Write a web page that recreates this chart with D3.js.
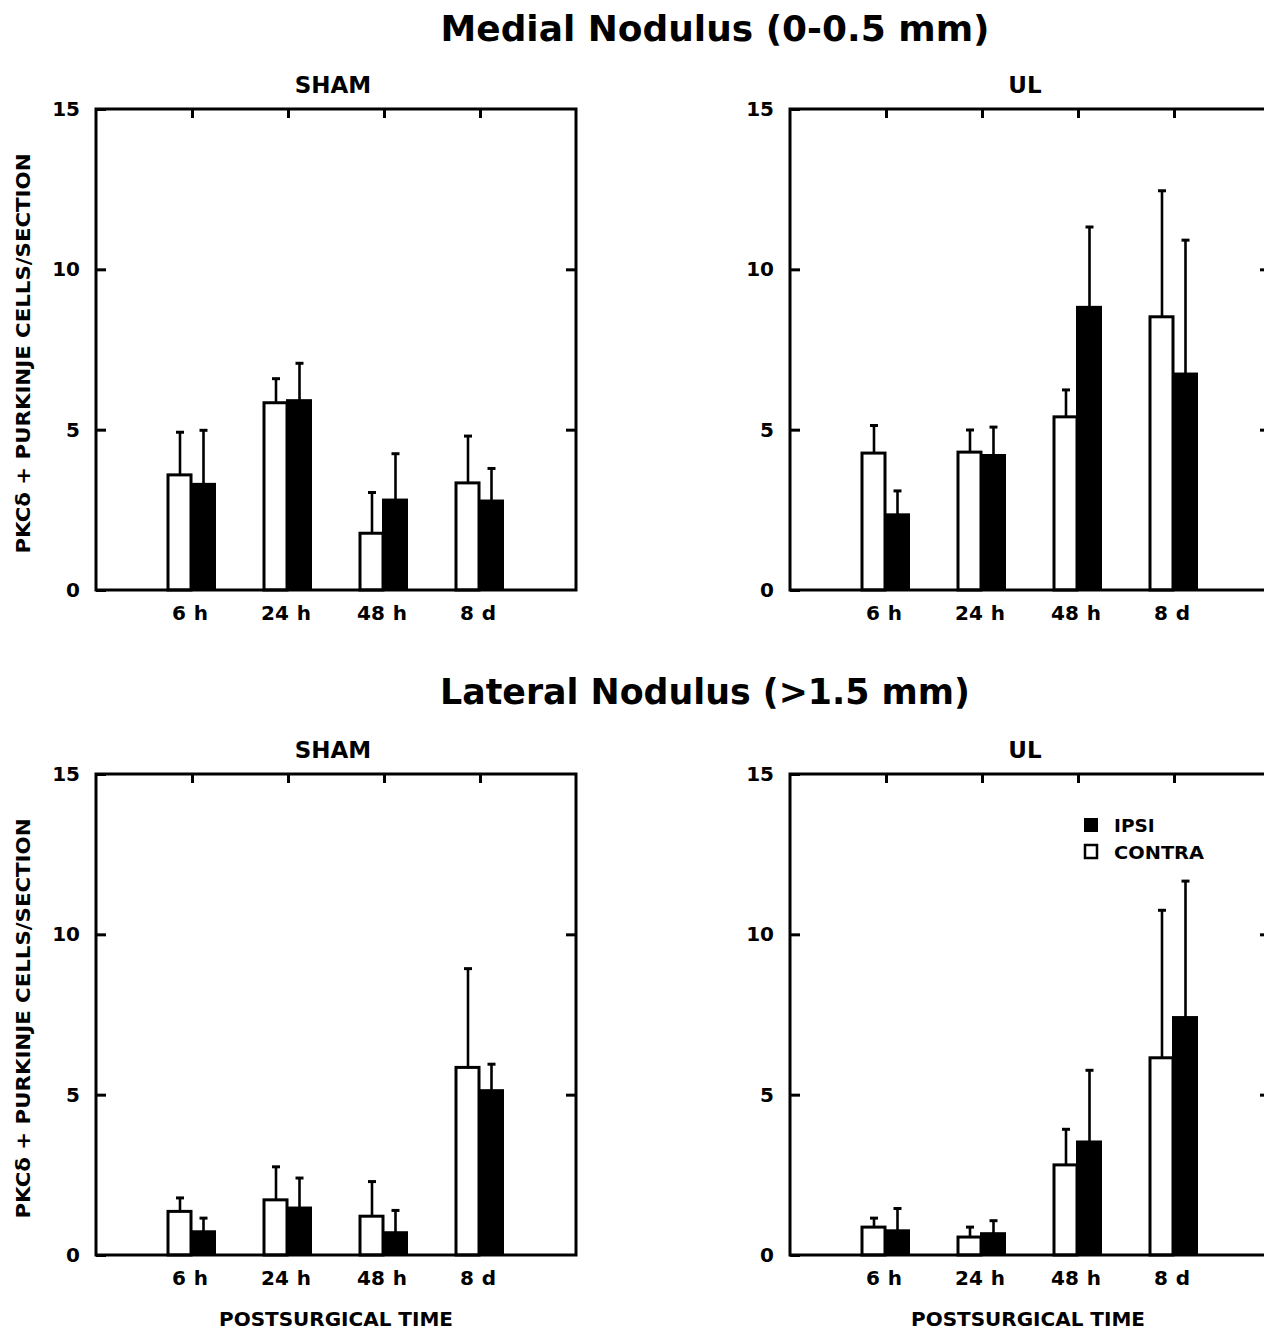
<!DOCTYPE html>
<html>
<head>
<meta charset="utf-8">
<script src="https://cdn.jsdelivr.net/npm/d3@7"></script>
<style>
  body { margin: 0; background: #fff; }
  text { font-family: "DejaVu Sans", "Liberation Sans", Arial, sans-serif; font-weight: bold; fill: #000; }
</style>
</head>
<body>
<svg width="1264" height="1331"></svg>
<script>
// values (mean and SD, cells/section)
var categories = ["6 h", "24 h", "48 h", "8 d"];
var yTicks = [0, 5, 10, 15];

var medialShamContra   = [3.59, 5.84, 1.77, 3.34];
var medialShamContraSD = [1.33, 0.75, 1.27, 1.46];
var medialShamIpsi     = [3.31, 5.92, 2.82, 2.79];
var medialShamIpsiSD   = [1.67, 1.15, 1.43, 1.00];

var medialULContra   = [4.27, 4.30, 5.40, 8.52];
var medialULContraSD = [0.86, 0.69, 0.84, 3.93];
var medialULIpsi     = [2.36, 4.21, 8.83, 6.75];
var medialULIpsiSD   = [0.73, 0.87, 2.49, 4.16];

var lateralShamContra   = [1.36, 1.72, 1.21, 5.85];
var lateralShamContraSD = [0.42, 1.03, 1.08, 3.08];
var lateralShamIpsi     = [0.74, 1.48, 0.71, 5.14];
var lateralShamIpsiSD   = [0.41, 0.92, 0.68, 0.81];

var lateralULContra   = [0.87, 0.56, 2.81, 6.15];
var lateralULContraSD = [0.28, 0.31, 1.11, 4.60];
var lateralULIpsi     = [0.77, 0.68, 3.54, 7.42];
var lateralULIpsiSD   = [0.68, 0.39, 2.22, 4.24];

var yLabel = "PKC\u03b4 + PURKINJE CELLS/SECTION";
var xLabel = "POSTSURGICAL TIME";

var svg = d3.select("svg");

var W = 480, H = 481, barW = 24;

function drawPanel(x0, y0, title, contra, contraSD, ipsi, ipsiSD, opts) {
    var x = d3.scalePoint().domain(categories).range([x0, x0 + W]).padding(1);
    var y = d3.scaleLinear().domain([0, 15]).range([y0 + H, y0]);
    var g = svg.append("g");

    var rows = categories.map(function (c, i) {
        return { c: c, contra: contra[i], contraSD: contraSD[i], ipsi: ipsi[i], ipsiSD: ipsiSD[i] };
    });

    // error bars first so the bars sit over their base
    var err = [];
    rows.forEach(function (d) {
        err.push({ cx: x(d.c) - 12, v: d.contra, sd: d.contraSD });
        err.push({ cx: x(d.c) + 11.5, v: d.ipsi, sd: d.ipsiSD });
    });
    g.selectAll("line.err").data(err).enter().append("line")
        .attr("class", "err")
        .attr("x1", function (d) { return d.cx; }).attr("x2", function (d) { return d.cx; })
        .attr("y1", function (d) { return y(d.v); }).attr("y2", function (d) { return y(d.v + d.sd); })
        .attr("stroke", "#000").attr("stroke-width", 2.6);
    g.selectAll("line.cap").data(err).enter().append("line")
        .attr("class", "cap")
        .attr("x1", function (d) { return d.cx - 4; }).attr("x2", function (d) { return d.cx + 4; })
        .attr("y1", function (d) { return y(d.v + d.sd); }).attr("y2", function (d) { return y(d.v + d.sd); })
        .attr("stroke", "#000").attr("stroke-width", 3);

    g.selectAll("rect.contra").data(rows).enter().append("rect")
        .attr("class", "contra")
        .attr("x", function (d) { return x(d.c) - barW; })
        .attr("y", function (d) { return y(d.contra); })
        .attr("width", barW - 1)
        .attr("height", function (d) { return y(0) - y(d.contra); })
        .attr("fill", "#fff").attr("stroke", "#000").attr("stroke-width", 3);
    g.selectAll("rect.ipsi").data(rows).enter().append("rect")
        .attr("class", "ipsi")
        .attr("x", function (d) { return x(d.c) - 1; })
        .attr("y", function (d) { return y(d.ipsi); })
        .attr("width", barW)
        .attr("height", function (d) { return y(0) - y(d.ipsi); })
        .attr("fill", "#000").attr("stroke", "#000").attr("stroke-width", 2);

    // frame
    g.append("rect").attr("x", x0).attr("y", y0).attr("width", W).attr("height", H)
        .attr("fill", "none").attr("stroke", "#000").attr("stroke-width", 3);

    var left = g.append("g").attr("transform", "translate(" + x0 + ",0)")
        .call(d3.axisLeft(y).tickValues(yTicks).tickFormat(d3.format("d"))
            .tickSizeInner(-10).tickSizeOuter(0).tickPadding(16));
    left.attr("font-size", 20);
    left.select(".domain").remove();
    left.selectAll("line").attr("stroke-width", 3);

    var right = g.append("g").attr("transform", "translate(" + (x0 + W) + ",0)")
        .call(d3.axisRight(y).tickValues([5, 10]).tickFormat("").tickSizeInner(-10).tickSizeOuter(0));
    right.select(".domain").remove();
    right.selectAll("line").attr("stroke-width", 3);

    var top = g.append("g").attr("transform", "translate(0," + y0 + ")")
        .call(d3.axisTop(x).tickFormat("").tickSizeInner(-9).tickSizeOuter(0));
    top.select(".domain").remove();
    top.selectAll("line").attr("stroke-width", 3);

    var bottom = g.append("g").attr("transform", "translate(-2.5," + (y0 + H) + ")")
        .call(d3.axisBottom(x).tickSize(0).tickPadding(16));
    bottom.attr("font-size", 20);
    bottom.select(".domain").remove();
    bottom.selectAll("text").style("word-spacing", "1px");

    g.append("text").attr("x", opts.titleX).attr("y", y0 - 16)
        .attr("text-anchor", "middle").attr("font-size", 23)
        .text(title);

    if (opts.yLabel) {
        g.append("text")
            .attr("transform", "translate(30," + (y0 + H / 2 + 4) + ") rotate(-90)")
            .attr("text-anchor", "middle").attr("font-size", 20)
            .attr("textLength", 400).attr("lengthAdjust", "spacingAndGlyphs")
            .text(yLabel);
    }
    if (opts.xLabel) {
        g.append("text").attr("x", opts.titleX + 3).attr("y", y0 + H + 71)
            .attr("text-anchor", "middle").attr("font-size", 19.5)
            .attr("textLength", 234).attr("lengthAdjust", "spacingAndGlyphs")
            .text(xLabel);
    }
    if (opts.legend) {
        var lg = g.append("g").attr("transform", "translate(1085," + (y0 + 45) + ")");
        lg.append("rect").attr("x", 0).attr("y", 0).attr("width", 12).attr("height", 12)
            .attr("fill", "#000").attr("stroke", "#000").attr("stroke-width", 2);
        lg.append("text").attr("x", 29).attr("y", 12.5).attr("font-size", 18.5)
            .text("IPSI");
        lg.append("rect").attr("x", 0).attr("y", 26).attr("width", 12).attr("height", 13)
            .attr("fill", "#fff").attr("stroke", "#000").attr("stroke-width", 2.5);
        lg.append("text").attr("x", 29).attr("y", 39.5).attr("font-size", 18.5)
            .attr("textLength", 90).attr("lengthAdjust", "spacingAndGlyphs")
            .text("CONTRA");
    }
}

svg.append("text").attr("x", 715).attr("y", 41).attr("text-anchor", "middle")
    .attr("font-size", 35).attr("textLength", 549).attr("lengthAdjust", "spacingAndGlyphs")
    .text("Medial Nodulus (0-0.5 mm)");
svg.append("text").attr("x", 705).attr("y", 704).attr("text-anchor", "middle")
    .attr("font-size", 35).attr("textLength", 530).attr("lengthAdjust", "spacingAndGlyphs")
    .text("Lateral Nodulus (>1.5 mm)");

drawPanel(96, 109, "SHAM", medialShamContra, medialShamContraSD, medialShamIpsi, medialShamIpsiSD,
    { titleX: 333, yLabel: true });
drawPanel(790, 109, "UL", medialULContra, medialULContraSD, medialULIpsi, medialULIpsiSD,
    { titleX: 1025 });
drawPanel(96, 774, "SHAM", lateralShamContra, lateralShamContraSD, lateralShamIpsi, lateralShamIpsiSD,
    { titleX: 333, yLabel: true, xLabel: true });
drawPanel(790, 774, "UL", lateralULContra, lateralULContraSD, lateralULIpsi, lateralULIpsiSD,
    { titleX: 1025, xLabel: true, legend: true });
</script>
</body>
</html>
